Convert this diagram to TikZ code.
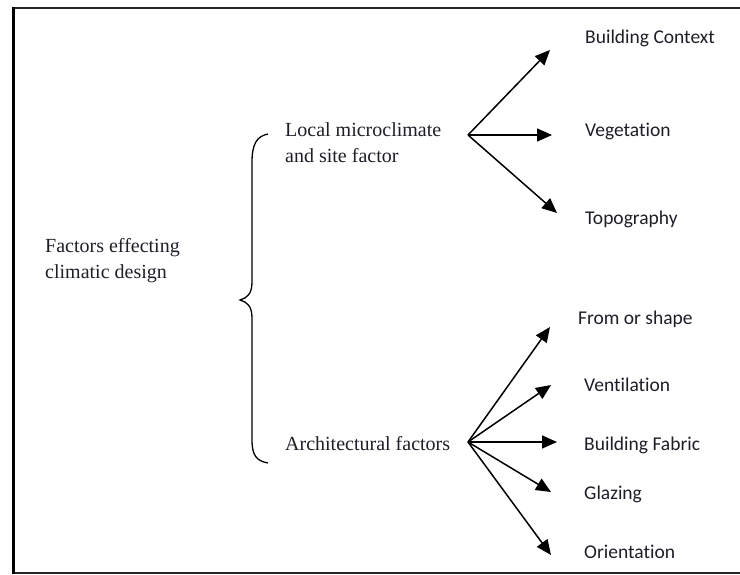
\documentclass[tikz,border=0pt]{standalone}
\usepackage{fontspec}
\setmainfont{Liberation Serif}
\newfontfamily\labelfont[Ligatures=NoCommon]{Carlito}
\usetikzlibrary{arrows.meta}
\definecolor{inkgray}{RGB}{30,30,40}
\tikzset{
  leftlabel/.style={anchor=base west, inner sep=0pt, align=left, text=inkgray,
    font=\fontsize{20}{26}\selectfont},
  rightlabel/.style={anchor=base west, inner sep=0pt, text=inkgray,
    font=\labelfont\fontsize{19.5}{24}\selectfont},
  fanarrow/.style={line width=1.5pt, -{Triangle[length=15pt,width=13pt]}},
}
\begin{document}
\begin{tikzpicture}[x=1pt,y=-1pt]
    \useasboundingbox (0,0) rectangle (740,575);

    % frame, open on the right
    \draw[line width=2pt, black!85] (740,8.3) -- (13.7,8.3);
    \draw[line width=2pt, black!85] (13.7,573.3) -- (740,573.3);
    \draw[line width=2.8pt] (13.7,7.3) -- (13.7,574.3);

    % left column (base = last line)
    \node[leftlabel] (factors) at (45,279) {Factors effecting\\climatic design};
    \node[leftlabel] (local) at (285,163) {Local microclimate\\and site factor};
    \node[leftlabel] (arch) at (285,450) {Architectural factors};

    % brace
    \draw[line width=1.3pt]
        (268,134) .. controls (257,136) and (252,144) .. (252,162) -- (252,282)
        .. controls (252,294) and (247,298) .. (240,300)
        .. controls (247,302) and (252,306) .. (252,318) -- (252,440)
        .. controls (252,456) and (257,461) .. (268,463);

    % right column
    \node[rightlabel] (context) at (585,44) {Building Context};
    \node[rightlabel] (veget) at (585,137) {Vegetation};
    \node[rightlabel] (topo) at (585,225) {Topography};
    \node[rightlabel] (shape) at (578,324) {From or shape};
    \node[rightlabel] (vent) at (584,391) {Ventilation};
    \node[rightlabel] (fabric) at (584,450) {Building Fabric};
    \node[rightlabel] (glazing) at (584,499) {Glazing};
    \node[rightlabel] (orient) at (584,558) {Orientation};

    % fan points and arrow tips
    \coordinate (hubA) at (468,135);
    \coordinate (hubB) at (468,442);
    \coordinate (contextEnd) at (550,50);
    \coordinate (vegetEnd) at (552,135);
    \coordinate (topoEnd) at (557,213);
    \coordinate (shapeEnd) at (550,327);
    \coordinate (ventEnd) at (551,385);
    \coordinate (fabricEnd) at (557,442);
    \coordinate (glazingEnd) at (551,492);
    \coordinate (orientEnd) at (551,555);

    \foreach \e in {contextEnd,vegetEnd,topoEnd}
        \draw[fanarrow] (hubA) -- (\e);
    \foreach \e in {shapeEnd,ventEnd,fabricEnd,glazingEnd,orientEnd}
        \draw[fanarrow] (hubB) -- (\e);
\end{tikzpicture}
\end{document}
